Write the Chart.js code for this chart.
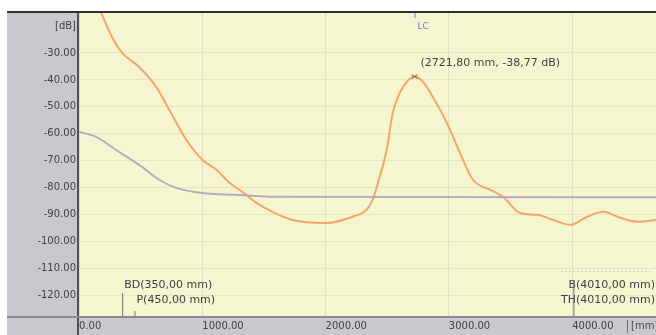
<!DOCTYPE html>
<html>
<head>
<title>Spectrum</title>
<script src="https://cdn.jsdelivr.net/npm/chart.js"></script>
<style>
  body { margin: 0; background: #fff; }
</style>
</head>
<body>
<canvas id="specChart" width="656" height="335"></canvas>
<script>
// values (x in mm, y in dB)
const orangeX = [160, 268, 350, 488, 626, 732, 870, 1000, 1114, 1220, 1325, 1439, 1569, 1732, 2008, 2220, 2333, 2382, 2439, 2496, 2545, 2602, 2659, 2722, 2789, 2870, 2984, 3089, 3195, 3333, 3439, 3577, 3715, 3846, 3984, 4122, 4252, 4390, 4528, 4680];
const orangeY = [-13, -24.1, -30, -35.2, -42.6, -51.1, -62.2, -69.6, -73.3, -78.1, -81.5, -85.6, -88.9, -91.9, -93, -90.7, -88.1, -84.4, -75.9, -65.9, -52.2, -44.8, -40.7, -38.77, -40.7, -46.3, -55.9, -67, -77, -80.7, -83.3, -89.3, -90, -91.9, -93.7, -90.7, -88.9, -91.1, -92.6, -91.9];
const grayX = [0, 138, 325, 488, 650, 789, 1000, 1276, 1545, 4680];
const grayY = [-59.3, -61.1, -66.7, -71.5, -77, -80, -81.9, -82.6, -83.3, -83.5];

const xTicks = [0, 1000, 2000, 3000, 4000];
const yTicks = [-120, -110, -100, -90, -80, -70, -60, -50, -40, -30, -20];

const peak = { x: 2721.8, y: -38.77, label: '(2721,80 mm, -38,77 dB)' };
const lcPos = 2721.8;
const leftMarkers = [{ name: 'BD(350,00 mm)', x: 350 }, { name: 'P(450,00 mm)', x: 450 }];
const rightMarkers = [{ name: 'B(4010,00 mm)', x: 4010 }, { name: 'TH(4010,00 mm)', x: 4010 }];

const FONT = '"DejaVu Sans", sans-serif';

const frame = {
  id: 'frame',
  beforeDraw(chart) {
    const c = chart.ctx, a = chart.chartArea;
    c.save();
    c.fillStyle = '#ffffff';
    c.fillRect(0, 0, chart.width, chart.height);
    c.fillStyle = '#c8c8ce';
    c.fillRect(7, 12, chart.width - 7, chart.height - 12);
    c.fillStyle = '#f5f5cf';
    c.fillRect(a.left, a.top, a.right - a.left, a.bottom - a.top);
    c.restore();
  },
  afterDraw(chart) {
    const c = chart.ctx, a = chart.chartArea;
    const xs = chart.scales.x, ys = chart.scales.y;
    c.save();
    // frame lines
    c.strokeStyle = '#303030';
    c.lineWidth = 2;
    c.beginPath(); c.moveTo(7, 12); c.lineTo(chart.width, 12); c.stroke();
    c.strokeStyle = '#505058';
    c.beginPath(); c.moveTo(a.left - 1, a.top); c.lineTo(a.left - 1, chart.height); c.stroke();
    c.strokeStyle = '#8a8a90';
    c.beginPath(); c.moveTo(7, a.bottom + 1); c.lineTo(chart.width, a.bottom + 1); c.stroke();

    // unit on x axis
    c.lineWidth = 1;
    c.strokeStyle = '#707078';
    c.beginPath(); c.moveTo(627.5, a.bottom + 4); c.lineTo(627.5, chart.height - 2); c.stroke();
    c.fillStyle = '#505058';
    c.font = '10px ' + FONT;
    c.textBaseline = 'middle';
    c.textAlign = 'left';
    c.fillText('[mm]', 631, a.bottom + 10);

    // LC marker
    const lx = xs.getPixelForValue(lcPos);
    c.strokeStyle = '#7080c0';
    c.beginPath(); c.moveTo(lx + 0.5, a.top); c.lineTo(lx + 0.5, a.top + 5); c.stroke();
    c.fillStyle = '#7080c0';
    c.font = '9px ' + FONT;
    c.fillText('LC', lx + 3, a.top + 14);

    // peak marker
    const px = xs.getPixelForValue(peak.x), py = ys.getPixelForValue(peak.y);
    c.strokeStyle = '#806040';
    c.beginPath();
    c.moveTo(px - 3, py - 2); c.lineTo(px + 3, py + 2);
    c.moveTo(px - 3, py + 2); c.lineTo(px + 3, py - 2);
    c.stroke();
    c.fillStyle = '#404048';
    c.font = '11px ' + FONT;
    c.fillText(peak.label, px + 6, py - 13);

    // left markers
    c.strokeStyle = '#707070';
    leftMarkers.forEach((m, i) => {
      const mx = xs.getPixelForValue(m.x);
      const ty = a.bottom - 31 + i * 15;
      c.beginPath(); c.moveTo(mx + 0.5, ty + 8 + i * 3); c.lineTo(mx + 0.5, a.bottom); c.stroke();
      c.fillStyle = '#404048';
      c.fillText(m.name, mx + 2, ty);
    });

    // right markers
    rightMarkers.forEach((m, i) => {
      const mx = xs.getPixelForValue(m.x);
      const ty = a.bottom - 31 + i * 15;
      c.textAlign = 'right';
      c.fillStyle = '#404048';
      c.fillText(m.name, chart.width - 1, ty);
    });
    const bx = xs.getPixelForValue(rightMarkers[0].x);
    c.beginPath(); c.moveTo(bx + 0.5, a.bottom - 36); c.lineTo(bx + 0.5, a.bottom); c.stroke();
    c.setLineDash([1, 3]);
    c.strokeStyle = '#b0b0a0';
    c.beginPath(); c.moveTo(bx - 12, a.bottom - 44.5); c.lineTo(chart.width - 6, a.bottom - 44.5); c.stroke();
    c.restore();
  }
};

new Chart(document.getElementById('specChart'), {
  type: 'line',
  data: {
    datasets: [
      {
        data: grayX.map((x, i) => ({ x: x, y: grayY[i] })),
        borderColor: '#b4acc0',
        borderWidth: 2,
        pointRadius: 0,
        cubicInterpolationMode: 'monotone'
      },
      {
        data: orangeX.map((x, i) => ({ x: x, y: orangeY[i] })),
        borderColor: '#f2a66a',
        borderWidth: 2,
        pointRadius: 0,
        cubicInterpolationMode: 'monotone'
      }
    ]
  },
  options: {
    responsive: false,
    animation: false,
    layout: { padding: { left: 7, top: 13, right: 0, bottom: 0 } },
    plugins: { legend: { display: false }, tooltip: { enabled: false } },
    scales: {
      x: {
        type: 'linear',
        min: 0,
        max: 4680,
        afterBuildTicks: s => { s.ticks = xTicks.map(v => ({ value: v })); },
        afterFit: s => { s.height = 19; s.paddingLeft = 0; s.paddingRight = 0; },
        border: { display: false },
        grid: { color: '#dcdfc2', drawTicks: false },
        ticks: {
          align: 'start',
          padding: 4,
          color: '#404048',
          font: { family: FONT, size: 10 },
          maxRotation: 0,
          callback: v => v.toFixed(2)
        }
      },
      y: {
        min: -127.5,
        max: -15.2,
        afterBuildTicks: s => { s.ticks = yTicks.map(v => ({ value: v })); },
        afterFit: s => { s.width = 72; s.paddingTop = 0; s.paddingBottom = 0; },
        border: { display: false },
        grid: { color: c => c.tick && c.tick.value === -20 ? 'rgba(0,0,0,0)' : '#e6e6c4', drawTicks: false },
        ticks: {
          padding: 3,
          color: '#404048',
          font: { family: FONT, size: 10 },
          callback: v => v === -20 ? '[dB]' : v.toFixed(2)
        }
      }
    }
  },
  plugins: [frame]
});
</script>
</body>
</html>
